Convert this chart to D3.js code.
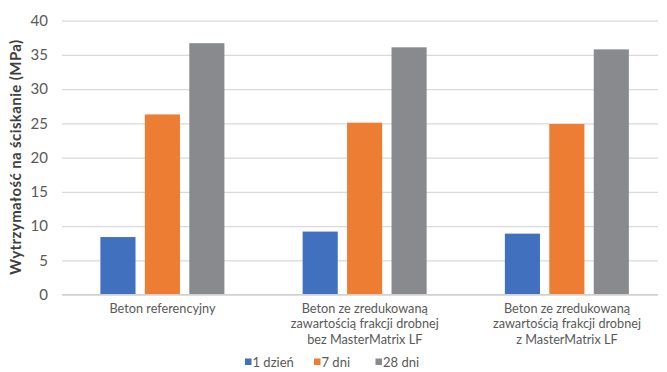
<!DOCTYPE html>
<html>
<head>
<meta charset="utf-8">
<script src="https://cdn.jsdelivr.net/npm/d3@7"></script>
<style>
  html, body { margin: 0; padding: 0; background: #fff; }
  svg { display: block; }
  text { font-family: Lato, "Open Sans", sans-serif; }
</style>
</head>
<body>
<svg id="chart" width="667" height="372"></svg>
<script>
const categories = [
  ["Beton referencyjny"],
  ["Beton ze zredukowaną", "zawartością frakcji drobnej", "bez MasterMatrix LF"],
  ["Beton ze zredukowaną", "zawartością frakcji drobnej", "z MasterMatrix LF"]
];
const seriesNames = ["1 dzień", "7 dni", "28 dni"];
const day1 = [8.4, 9.2, 8.9];
const day7 = [26.3, 25.1, 24.9];
const day28 = [36.7, 36.1, 35.8];
const yTicks = [0, 5, 10, 15, 20, 25, 30, 35, 40];
const colors = ["#4170bf", "#ee7d34", "#898a8d"];
const yTitle = "Wytrzymałość na ściskanie (MPa)";

const series = [day1, day7, day28];
const svg = d3.select("#chart");

const catIdx = categories.map((c, i) => i);
const x0 = d3.scaleBand().domain(catIdx).range([61.4, 668.1]).padding(0);
const x1 = d3.scaleBand().domain(seriesNames).range([39, 163]).paddingInner(0.21).paddingOuter(0);
const y = d3.scaleLinear().domain([0, 40]).range([294.6, 20.6]);

const gridX1 = 62, gridX2 = 658;

// gridlines
const yAxis = d3.axisLeft(y).tickValues(yTicks).tickSize(-(gridX2 - gridX1)).tickPadding(14).tickFormat(d3.format("d"));
const ga = svg.append("g").attr("transform", `translate(${gridX1},0)`).call(yAxis);
ga.select(".domain").remove();
ga.selectAll(".tick line").attr("stroke", "#d9d9d9").attr("stroke-width", 1.3);
ga.selectAll(".tick text").attr("fill", "#595959").style("font-size", "15px").attr("font-family", "Lato, sans-serif");

// bars
const groups = svg.append("g").selectAll("g").data(catIdx).join("g")
  .attr("transform", i => `translate(${x0(i)},0)`);
groups.selectAll("rect")
  .data(i => seriesNames.map((s, k) => ({ s, k, v: series[k][i] })))
  .join("rect")
  .attr("x", d => x1(d.s))
  .attr("width", x1.bandwidth())
  .attr("y", d => y(d.v))
  .attr("height", d => y(0) - y(d.v))
  .attr("fill", d => colors[d.k]);

// baseline
svg.append("line").attr("x1", gridX1).attr("x2", gridX2).attr("y1", y(0)).attr("y2", y(0))
  .attr("stroke", "#d0d0d0").attr("stroke-width", 1.3);

// category labels (one text element per line)
const lineData = [];
categories.forEach((lines, i) => lines.forEach((t, j) => lineData.push({ i, j, t })));
svg.append("g").selectAll("text").data(lineData).join("text")
  .attr("text-anchor", "middle")
  .attr("fill", "#595959")
  .style("font-size", "12.7px")
  .attr("x", d => x0(d.i) + x0.bandwidth() / 2)
  .attr("y", d => 313 + d.j * 15.4)
  .text(d => d.t);

// y title
svg.append("text")
  .attr("transform", "translate(21,157) rotate(-90)")
  .attr("text-anchor", "middle")
  .attr("fill", "#404040")
  .style("font-size", "15px")
  .style("font-weight", "bold")
  .style("letter-spacing", "0.4px")
  .text(yTitle);

// legend
const legX = [245, 314, 375.5];
const leg = svg.append("g").selectAll("g").data(seriesNames).join("g")
  .attr("transform", (d, i) => `translate(${legX[i]},362)`);
leg.append("rect").attr("x", 0).attr("y", -3.5).attr("width", 6.5).attr("height", 6.5)
  .attr("fill", (d, i) => colors[i]);
leg.append("text").attr("x", 7.5).attr("y", 4.8).attr("fill", "#595959")
  .style("font-size", "13px").text(d => d);
</script>
</body>
</html>
